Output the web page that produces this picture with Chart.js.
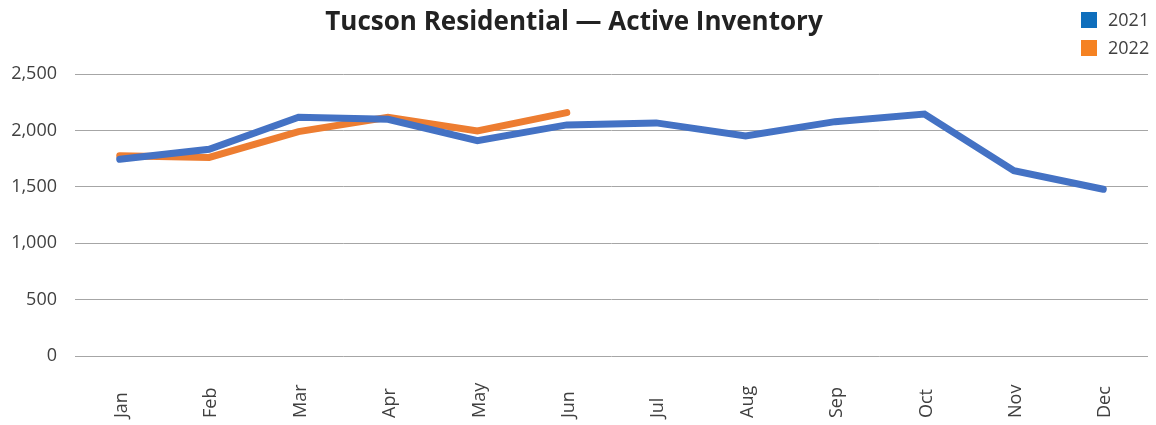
<!DOCTYPE html>
<html>
<head>
<meta charset="utf-8">
<script src="https://cdn.jsdelivr.net/npm/chart.js@4"></script>
<style>
  html, body { margin: 0; padding: 0; background: #fff; }
  #wrap { width: 1156px; height: 425px; position: relative; }
</style>
</head>
<body>
<div id="wrap"><canvas id="chart"></canvas></div>
<script>
const months = ["Jan", "Feb", "Mar", "Apr", "May", "Jun", "Jul", "Aug", "Sep", "Oct", "Nov", "Dec"];
const inventory2021 = [1745, 1834, 2118, 2100, 1910, 2050, 2068, 1952, 2079, 2147, 1644, 1479];
const inventory2022 = [1777, 1762, 1991, 2118, 1997, 2159];
const yTicks = [0, 500, 1000, 1500, 2000, 2500];

const lineColors = ["#4472C4", "#ED7D31"];
const legendColors = ["#0E6EBC", "#F58222"];
const textColor = "#404040";

// legend drawn in the top right corner, stacked vertically
const cornerLegend = {
  id: "cornerLegend",
  afterDraw(chart) {
    const ctx = chart.ctx;
    ctx.save();
    ctx.font = "18px 'Open Sans'";
    ctx.textBaseline = "middle";
    chart.data.datasets.forEach((ds, i) => {
      const y = 20 + i * 28;
      ctx.fillStyle = legendColors[i];
      ctx.fillRect(1081, y - 8, 16, 16);
      ctx.fillStyle = textColor;
      ctx.fillText(ds.label, 1108, y + 1);
    });
    ctx.restore();
  },
};

// month labels: rotated, starting from the bottom edge (like the original)
const bottomLabels = {
  id: "bottomLabels",
  afterDraw(chart) {
    const ctx = chart.ctx;
    const xScale = chart.scales.x;
    ctx.save();
    ctx.font = "18px 'Open Sans'";
    ctx.fillStyle = textColor;
    ctx.textAlign = "left";
    ctx.textBaseline = "middle";
    chart.data.labels.forEach((lbl, i) => {
      const x = xScale.getPixelForTick(i);
      ctx.save();
      ctx.translate(x + 2, 418);
      ctx.rotate(-Math.PI / 2);
      ctx.fillText(lbl, 0, 0);
      ctx.restore();
    });
    ctx.restore();
  },
};

const ctx = document.getElementById("chart").getContext("2d");
new Chart(ctx, {
  type: "line",
  data: {
    labels: months,
    datasets: [
      {
        label: "2021",
        data: inventory2021,
        borderColor: lineColors[0],
        backgroundColor: lineColors[0],
        borderWidth: 7,
        pointRadius: 0,
        tension: 0,
        borderCapStyle: "round",
      },
      {
        label: "2022",
        data: inventory2022,
        borderColor: lineColors[1],
        backgroundColor: lineColors[1],
        borderWidth: 7,
        pointRadius: 0,
        tension: 0,
        borderCapStyle: "round",
      },
    ],
  },
  options: {
    responsive: true,
    maintainAspectRatio: false,
    animation: false,
    layout: { padding: { left: 0, right: 8, top: 0, bottom: 69 } },
    plugins: {
      legend: { display: false },
      tooltip: { enabled: false },
      title: {
        display: true,
        text: "Tucson Residential — Active Inventory",
        color: "#222",
        font: { family: "'Open Sans'", size: 26, weight: "bold" },
        padding: { top: 7, bottom: 36 },
      },
    },
    scales: {
      x: {
        offset: true,
        grid: { display: false, drawTicks: false },
        border: { display: false },
        ticks: { display: false },
      },
      y: {
        min: 0,
        max: 2500,
        afterBuildTicks: (axis) => {
          axis.ticks = yTicks.map((v) => ({ value: v }));
        },
        afterFit: (axis) => {
          axis.width = 75;
        },
        grid: { color: "#A6A6A6", lineWidth: 1, drawTicks: false },
        border: { display: false },
        ticks: {
          color: textColor,
          font: { family: "'Open Sans'", size: 18 },
          padding: 18,
          callback: (v) => v.toLocaleString("en-US"),
        },
      },
    },
  },
  plugins: [cornerLegend, bottomLabels],
});
</script>
</body>
</html>
